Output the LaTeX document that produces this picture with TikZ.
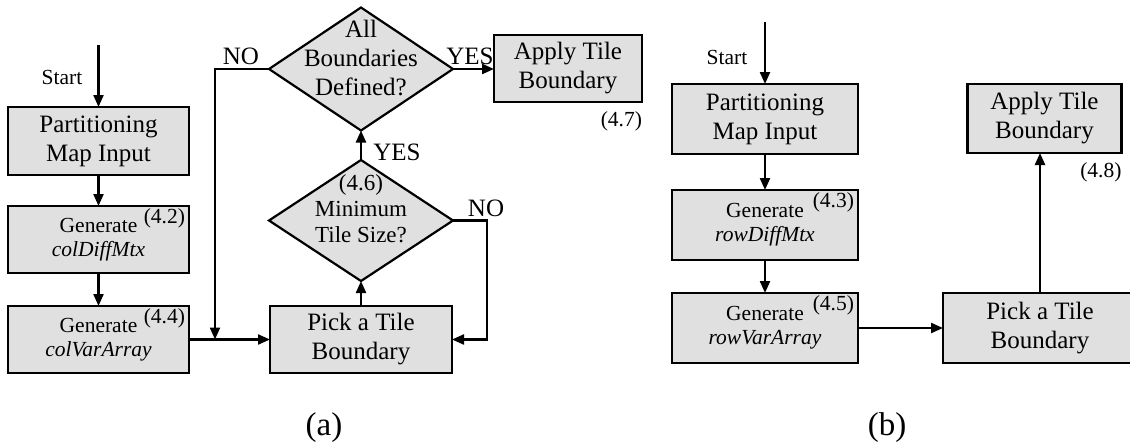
\documentclass[tikz,border=0pt]{standalone}
\usepackage{fontspec}
\setmainfont{Liberation Serif}
\usetikzlibrary{shapes.geometric,arrows.meta}
\definecolor{boxgray}{RGB}{224,224,224}
\begin{document}
\begin{tikzpicture}[x=1pt,y=-1pt,
  line width=2.2pt,
  every node/.style={inner sep=0pt, outer sep=0pt},
  >={Triangle[length=12pt,width=10pt]},
  bigtxt/.style={font=\fontsize{25}{29}\selectfont},
  midtxt/.style={font=\fontsize{21.5}{24}\selectfont},
  dectxt/.style={font=\fontsize{23}{26}\selectfont},
  starttxt/.style={font=\fontsize{21.5}{24}\selectfont},
  captxt/.style={font=\fontsize{33}{36}\selectfont},
  box/.style={draw, fill=boxgray, align=center},
  decision/.style={diamond, draw, fill=boxgray},
  lbl/.style={align=center}
]
\useasboundingbox (0,0) rectangle (1130,447);
\clip (0,0) rectangle (1130,447);

% ---------------- (a) column partitioning ----------------
\coordinate (sa) at (98.5,45);
\node[starttxt] (starta) at (62,77) {Start};
\node[box, bigtxt, minimum width=181, minimum height=68] (pa1) at (98.5,141) {Partitioning\\Map Input};
\node[box, midtxt, minimum width=181, minimum height=67] (pa2) at (98.5,239.5) {Generate\\\textit{colDiffMtx}};
\node[box, midtxt, minimum width=181, minimum height=67] (pa3) at (98.5,339.5) {Generate\\\textit{colVarArray}};
\node[midtxt, anchor=north east] (eq42) at ([xshift=-4pt,yshift=-3pt]pa2.north east) {(4.2)};
\node[midtxt, anchor=north east] (eq44) at ([xshift=-4pt,yshift=-3pt]pa3.north east) {(4.4)};
\node[box, bigtxt, minimum width=182, minimum height=67] (pa4) at (361,339.5) {Pick a Tile\\Boundary};
\node[box, bigtxt, minimum width=148, minimum height=67] (pa5) at (568,68.5) {Apply Tile\\Boundary};
\node[midtxt, anchor=north east] (eq47) at ([yshift=-10pt]pa5.south east) {(4.7)};

\node[decision, minimum width=184, minimum height=123] (da) at (361,69) {};
\node[bigtxt, lbl] (datxt) at (361,58) {All\\Boundaries\\Defined?};
\node[decision, minimum width=184, minimum height=121] (db) at (361,220.5) {};
\node[dectxt, lbl] (dbtxt) at (361,222) {Minimum\\Tile Size?};
\node[dectxt] (eq46) at (361,185) {(4.6)};

\draw[->] (sa) -- (pa1);
\draw[->] (pa1) -- (pa2);
\draw[->] (pa2) -- (pa3);
\draw[->] (pa3) -- (pa4);
\coordinate (noa) at (215,69);
\coordinate (joina) at (215,339.5);
\draw[->] (da.west) -- (noa) -- (joina);
\draw[->] (pa4) -- (db);
\draw[->] (db) -- (da);
\draw[->] (da.east) -- (da.east -| pa5.west);
\coordinate (nob) at (487,220.5);
\draw[->] (db.east) -- (nob) -- (nob |- pa4.east) -- (pa4.east);

\node[bigtxt] (lno1) at (241,56) {NO};
\node[bigtxt] (lyes1) at (470,56) {YES};
\node[bigtxt] (lyes2) at (397,152) {YES};
\node[bigtxt] (lno2) at (486,208) {NO};

\node[captxt] (capa) at (324,428) {(a)};

% ---------------- (b) row partitioning ----------------
\coordinate (sb) at (765,22);
\node[starttxt] (startb) at (727,57) {Start};
\node[box, bigtxt, minimum width=186, minimum height=70] (pb1) at (765,119) {Partitioning\\Map Input};
\node[box, midtxt, minimum width=186, minimum height=70] (pb2) at (765,225) {Generate\\\textit{rowDiffMtx}};
\node[box, midtxt, minimum width=186, minimum height=70] (pb3) at (765,328) {Generate\\\textit{rowVarArray}};
\node[midtxt, anchor=north east] (eq43) at ([xshift=-4pt,yshift=-3pt]pb2.north east) {(4.3)};
\node[midtxt, anchor=north east] (eq45) at ([xshift=-4pt,yshift=-3pt]pb3.north east) {(4.5)};
\node[box, bigtxt, minimum width=194, minimum height=70] (pb4) at (1040,328) {Pick a Tile\\Boundary};
\node[box, bigtxt, minimum width=154, minimum height=69] (pb5) at (1044.5,118.5) {Apply Tile\\Boundary};
\node[midtxt, anchor=north east] (eq48) at ([yshift=-10pt]pb5.south east) {(4.8)};

\draw[->] (sb) -- (pb1);
\draw[->] (pb1) -- (pb2);
\draw[->] (pb2) -- (pb3);
\draw[->] (pb3) -- (pb4);
\draw[->] (pb4.north) -- (pb4.north |- pb5.south);

\node[captxt] (capb) at (887,428) {(b)};
\end{tikzpicture}
\end{document}
